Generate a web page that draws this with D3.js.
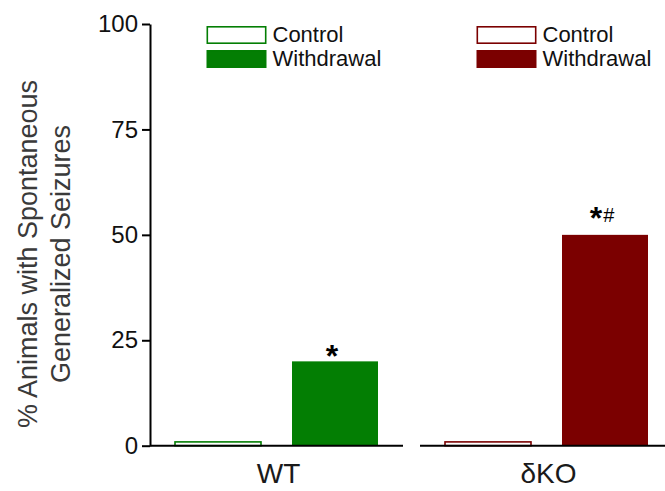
<!DOCTYPE html>
<html>
<head>
<meta charset="utf-8">
<script src="https://cdn.jsdelivr.net/npm/d3@7"></script>
<style>
  html, body { margin: 0; padding: 0; background: #fff; }
  svg { display: block; font-family: "Liberation Sans", Arial, sans-serif; }
</style>
</head>
<body>
<svg id="chart" width="665" height="491"></svg>
<script>
// Genotype groups and treatment conditions
const groups = ["WT", "δKO"];
const conditions = ["Control", "Withdrawal"];
// % animals with spontaneous generalized seizures, per group: [Control, Withdrawal]
const wtValues = [0.9, 20];
const koValues = [0.9, 50];
// Significance marks above the withdrawal bars
const wtMarks = ["*", ""];
const koMarks = ["*", "#"];
const yTicks = [0, 25, 50, 75, 100];
const groupColors = ["#037e03", "#7b0000"];

// Distance of each group's significance mark above its bar (px)
const markGap = { "WT": 6, "δKO": 18 };

const svg = d3.select("#chart");

const y = d3.scaleLinear().domain([0, 100]).range([445.7, 24]);
const x0 = d3.scaleBand().domain(groups).range([141.5, 681.5]).paddingInner(0);
const x1 = d3.scaleBand().domain(conditions).range([33.5, 236.5]).paddingInner(0.265).paddingOuter(0);

const data = groups.map((g, i) => ({
  group: g,
  color: groupColors[i],
  values: (i === 0 ? wtValues : koValues).map((v, j) => ({ cond: conditions[j], value: v })),
  marks: i === 0 ? wtMarks : koMarks
}));

// Y axis
const yAxis = d3.axisLeft(y).tickValues(yTicks).tickSize(8).tickPadding(4).tickSizeOuter(0);
const yg = svg.append("g").attr("transform", "translate(150,0)").call(yAxis);
yg.select(".domain").attr("stroke", "#000").attr("stroke-width", 2);
yg.selectAll(".tick line").attr("stroke", "#000").attr("stroke-width", 2);
yg.selectAll(".tick text").attr("font-size", 24).attr("fill", "#111")
  .attr("font-family", "Liberation Sans, Arial, sans-serif");

// Y axis title (two lines)
const title = svg.append("text")
  .attr("transform", "translate(0,254) rotate(-90)")
  .attr("text-anchor", "middle")
  .attr("font-size", 27)
  .attr("fill", "#3a3a3a");
title.append("tspan").attr("x", 0).attr("y", 37).text("% Animals with Spontaneous");
title.append("tspan").attr("x", 0).attr("y", 70).text("Generalized Seizures");

// Groups
const gGroup = svg.selectAll("g.grp").data(data).join("g")
  .attr("class", "grp")
  .attr("transform", d => `translate(${x0(d.group)},0)`);

// Bars
gGroup.selectAll("rect.bar").data(d => d.values.map(v => ({ ...v, color: d.color }))).join("rect")
  .attr("class", "bar")
  .attr("x", d => x1(d.cond))
  .attr("width", x1.bandwidth())
  .attr("y", d => y(d.value))
  .attr("height", d => y(0) - y(d.value))
  .attr("fill", d => d.cond === "Control" ? "#fff" : d.color)
  .attr("stroke", d => d.cond === "Control" ? d.color : "none")
  .attr("stroke-width", 1.6);

// X axis segment per group
gGroup.append("line")
  .attr("x1", 8.5).attr("x2", 261.5)
  .attr("y1", y(0)).attr("y2", y(0))
  .attr("stroke", "#000").attr("stroke-width", 2);

// Group labels
gGroup.append("text")
  .attr("x", x1.range()[0] + (x1.range()[1] - x1.range()[0]) / 2 + 2)
  .attr("y", 483)
  .attr("text-anchor", "middle")
  .attr("font-size", 28)
  .attr("fill", "#1a1a1a")
  .text(d => d.group);

// Significance marks
gGroup.each(function(d) {
  const g = d3.select(this);
  const wd = d.values[1];
  // asterisk glyph bottom sits ~12px above the baseline at this size
  const t = g.append("text")
    .attr("x", x1(wd.cond) + x1.bandwidth() / 2 - 3)
    .attr("y", y(wd.value) - markGap[d.group] + 12)
    .attr("text-anchor", "middle")
    .attr("fill", "#000");
  t.append("tspan").attr("font-size", 32).attr("font-weight", "bold").text(d.marks[0]);
  if (d.marks[1]) {
    t.append("tspan").attr("font-size", 20).attr("dy", -7).attr("dx", 1).text(d.marks[1]);
  }
});

// Legends
const leg = gGroup.append("g").attr("transform", "translate(65,26)");
conditions.forEach((c, i) => {
  leg.append("rect")
    .attr("x", 0.8).attr("y", i * 24 + 0.8)
    .attr("width", 58.4).attr("height", 16.4)
    .attr("fill", d => c === "Control" ? "#fff" : d.color)
    .attr("stroke", d => d.color)
    .attr("stroke-width", 1.6);
  leg.append("text")
    .attr("x", 66).attr("y", i * 24 + 16)
    .attr("font-size", 22)
    .attr("fill", "#111")
    .text(c);
});
</script>
</body>
</html>
